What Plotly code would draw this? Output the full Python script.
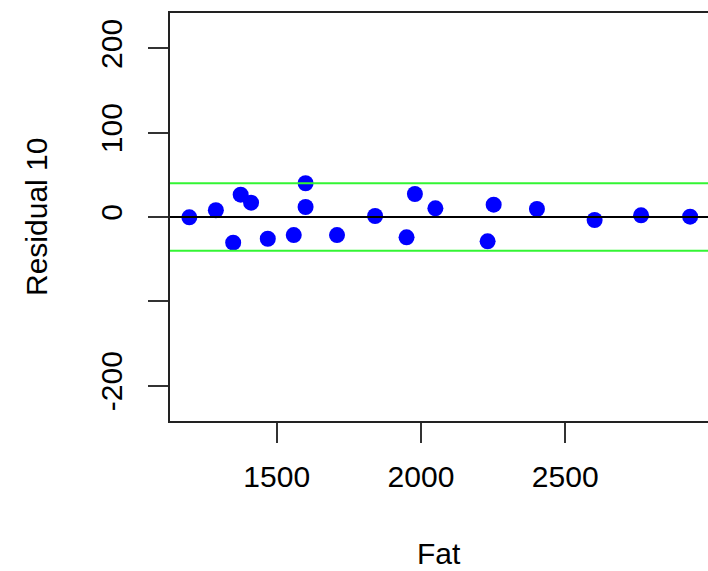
import plotly.graph_objects as go

# Data
fat = [1197, 1289, 1349, 1375, 1411, 1469, 1559, 1600, 1600, 1709,
       1841, 1950, 1979, 2050, 2231, 2252, 2402, 2602, 2763, 2933]
residual = [-0.4, 8.0, -30.5, 26.5, 17.0, -25.8, -21.4, 40.0, 11.9, -21.4,
            1.2, -24.1, 27.3, 10.3, -28.9, 14.6, 9.5, -3.6, 2.0, 0.4]
upper_limit = 40
lower_limit = -40
zero_level = 0

x_ticks = [1500, 2000, 2500]
x_tick_text = ["1500", "2000", "2500"]
y_ticks = [-200, -100, 0, 100, 200]
y_tick_text = ["-200", "", "0", "100", "200"]

FONT = "Liberation Sans, Arial, sans-serif"
FS = 30

fig = go.Figure()
fig.add_trace(go.Scatter(
    x=fat, y=residual, mode="markers",
    marker=dict(color="#0000ff", size=16, line=dict(width=0)),
    showlegend=False, hoverinfo="x+y"))

for yv, col in [(upper_limit, "#33f533"), (lower_limit, "#33f533"), (zero_level, "#000000")]:
    fig.add_shape(type="line", xref="paper", x0=0, x1=1, yref="y", y0=yv, y1=yv,
                  line=dict(color=col, width=2), layer="above")

fig.update_layout(
    width=708, height=571,
    margin=dict(l=170, r=0, t=13, b=150),
    paper_bgcolor="white", plot_bgcolor="white",
    font=dict(family=FONT, size=FS, color="black"),
    xaxis=dict(range=[1130, 2995], tickvals=x_ticks, ticktext=x_tick_text,
               showgrid=False, zeroline=False, showline=True, mirror=True,
               linecolor="#222", linewidth=2, ticks="outside", ticklen=20,
               tickwidth=2, tickcolor="#333", ticklabelstandoff=8,
               tickfont=dict(family=FONT, size=FS, color="black")),
    yaxis=dict(range=[-242, 242], tickvals=y_ticks, ticktext=y_tick_text,
               showgrid=False, zeroline=False, showline=True, mirror=False,
               linecolor="#222", linewidth=2, ticks="outside", ticklen=20,
               tickwidth=2, tickcolor="#333", tickangle=-90, ticklabelstandoff=14,
               tickfont=dict(family=FONT, size=FS, color="black")),
    annotations=[
        dict(text="Fat", xref="paper", yref="paper", x=0.5, y=0, yshift=-132,
             xanchor="center", yanchor="middle", showarrow=False,
             font=dict(family=FONT, size=FS, color="black")),
        dict(text="Residual 10", xref="paper", yref="paper", x=0, y=0.5,
             xshift=-134, xanchor="center", yanchor="middle", textangle=-90,
             showarrow=False, font=dict(family=FONT, size=FS, color="black")),
    ],
)

fig.write_html("out.html")
